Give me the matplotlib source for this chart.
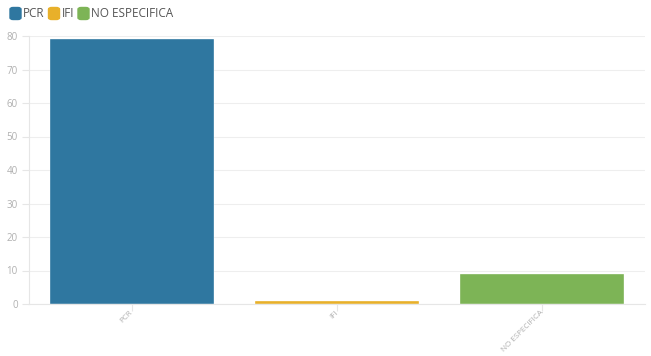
import matplotlib
matplotlib.use("Agg")
import matplotlib.pyplot as plt
from matplotlib.patches import FancyBboxPatch

categories = ["PCR", "IFI", "NO ESPECIFICA"]
values = [79, 1, 9]
colors = ["#2f77a0", "#e8b02a", "#7db456"]
yticks = [0, 10, 20, 30, 40, 50, 60, 70, 80]

plt.rcParams['font.family'] = ['Open Sans', 'DejaVu Sans']

W, H = 651, 356
fig = plt.figure(figsize=(W/100, H/100), dpi=100)
ax = fig.add_axes([29/W, 1-304/H, (645-29)/W, (304-36)/H])

x = list(range(len(categories)))
ax.bar(x, values, width=0.8, color=colors, edgecolor="white", linewidth=0.25)
ax.set_xlim(-0.5, len(categories)-0.5)
ax.set_ylim(0, 80)
ax.set_yticks(yticks)
ax.set_yticklabels([str(v) for v in yticks], fontsize=7, color="#b0b0b0")
ax.set_xticks(x)
ax.set_xticklabels(categories, rotation=45, ha="right", va="center", rotation_mode="anchor",
                   fontsize=5.8, color="#b0b0b0")
ax.tick_params(axis="y", length=5, color="#e6e6e6", pad=3)
ax.tick_params(axis="x", length=5, color="#e6e6e6", pad=0.5)
ax.grid(axis="y", color="#eeeeee", linewidth=0.8)
ax.set_axisbelow(True)
for s in ["top", "right"]:
    ax.spines[s].set_visible(False)
ax.spines["left"].set_color("#e6e6e6")
ax.spines["bottom"].set_color("#e6e6e6")

# legend
lx = 10
for cat, col in zip(categories, colors):
    p = FancyBboxPatch((lx/W, 1-19.5/H), 11/W, 12/H, boxstyle="round,pad=0,rounding_size=0.005",
                       transform=fig.transFigure, color=col, clip_on=False)
    fig.patches.append(p)
    t = fig.text((lx+13)/W, 1-13.5/H, cat, fontsize=8.5, color="#555555", va="center", ha="left")
    fig.canvas.draw()
    bb = t.get_window_extent()
    lx = bb.x1 + 4

fig.savefig("out.png", dpi=100)
